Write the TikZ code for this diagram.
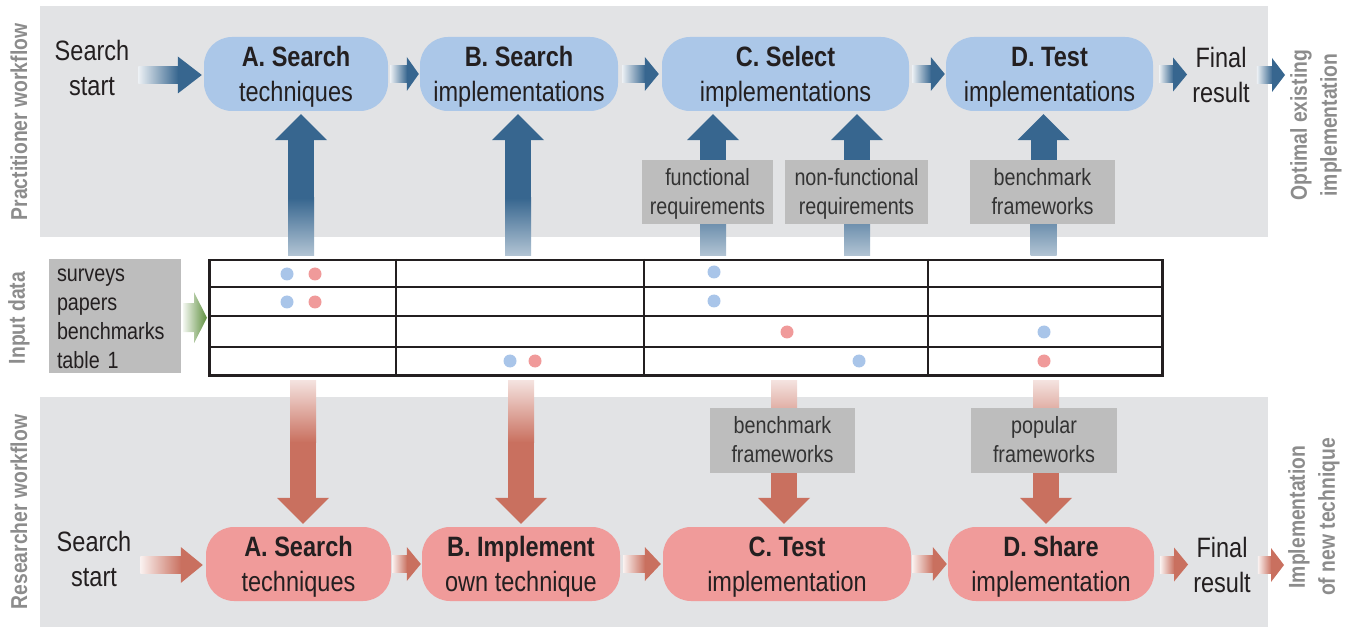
\documentclass[tikz,border=0pt]{standalone}
\usepackage{fontspec}
\setmainfont{Liberation Sans}[FakeStretch=0.84]
\usetikzlibrary{calc}
\definecolor{panelgray}{HTML}{E2E3E5}
\definecolor{bluebox}{HTML}{ABC7E8}
\definecolor{bluearr}{HTML}{37668F}
\definecolor{redbox}{HTML}{F09B9A}
\definecolor{redarr}{HTML}{C9705F}
\definecolor{lblgray}{HTML}{BDBDBD}
\definecolor{rotgray}{HTML}{8C8C8C}
\definecolor{txt}{HTML}{231F20}
\definecolor{lbltxt}{HTML}{333333}
\definecolor{greenarr}{HTML}{5E8F3D}
\definecolor{bdot}{HTML}{A9C5E9}
\definecolor{rdot}{HTML}{F09A9A}
\newcommand\mainfs{\fontsize{28}{35}\selectfont}
\newcommand\lblfs{\fontsize{23.5}{29}\selectfont}
\newcommand\rotfs{\fontsize{23}{30}\selectfont\bfseries}
% horizontal thick arrow: #1 start, #2 tip, #3 head length, #4 head half-height, #5 colour
\newcommand\harr[5]{%
 \shade[left color=#5!10!white, right color=#5] let \p1=#1, \p2=#2 in (\x1,\y2-8.5pt) rectangle (\x2-#3+0.5pt,\y2+8.5pt);
 \fill[#5] let \p1=#1, \p2=#2 in (\x2-#3,\y2-#4) -- (\x2,\y2) -- (\x2-#3,\y2+#4) -- cycle;}
% upward thick arrow: #1 base point (its y), #2 tip, #3 colour
\newcommand\uarr[3]{%
 \shade[top color=#3, bottom color=#3!38!white] let \p1=#1, \p2=#2 in (\x2-13pt,\y1) rectangle (\x2+13pt,\y1+58pt);
 \fill[#3] let \p1=#1, \p2=#2 in (\x2-13pt,\y1+57pt) rectangle (\x2+13pt,\y2-25.5pt);
 \fill[#3] let \p1=#1, \p2=#2 in (\x2-26pt,\y2-26pt) -- (\x2,\y2) -- (\x2+26pt,\y2-26pt) -- cycle;}
% downward thick arrow: #1 base point (its y), #2 tip, #3 colour
\newcommand\darr[3]{%
 \shade[top color=#3!20!white, bottom color=#3] let \p1=#1, \p2=#2 in (\x2-13pt,\y1) rectangle (\x2+13pt,\y1-62pt);
 \fill[#3] let \p1=#1, \p2=#2 in (\x2-13pt,\y1-61pt) rectangle (\x2+13pt,\y2+25.5pt);
 \fill[#3] let \p1=#1, \p2=#2 in (\x2-26pt,\y2+26pt) -- (\x2,\y2) -- (\x2+26pt,\y2+26pt) -- cycle;}
% box with its text set slightly lower: #1 style, #2 name, #3 centre, #4 width, #5 text shift, #6 text
\newcommand\flowbox[6]{%
 \node[#1, minimum width=#4] (#2) at #3 {};
 \node[boxtxt] (#2t) at ($(#2)+(0,#5)$) {#6};}
\begin{document}
\begin{tikzpicture}[x=1pt,y=-1pt,
  bbox/.style={rounded corners=28pt, fill=bluebox, minimum height=74pt, inner sep=0pt},
  rbox/.style={bbox, fill=redbox},
  boxtxt/.style={align=center, font=\mainfs, text=txt, inner sep=0pt},
  plaintext/.style={align=center, font=\mainfs, text=txt, inner sep=3pt},
  lbl/.style={fill=lblgray, inner sep=0pt},
  lbltxt/.style={align=center, font=\lblfs, text=lbltxt, inner sep=0pt},
  rot/.style={rotate=90, font=\rotfs, text=rotgray, align=center, inner sep=0pt},
  gridline/.style={draw=txt, line width=2.5pt}]
\useasboundingbox (0,0) rectangle (1355,628);
% panels
\fill[panelgray] (40,6) rectangle (1268,237);
\fill[panelgray] (40,397) rectangle (1268,627);
% side labels
\node[rot] (lP) at (19,122) {Practitioner workflow};
\node[rot] (lI) at (19,318) {Input data};
\node[rot] (lR) at (19,512) {Researcher workflow};
\node[rot] (lO) at (1316,125) {Optimal existing\\implementation};
\node[rot] (lN) at (1314,517) {Implementation\\of new technique};
% top row nodes
\node[plaintext] (pS) at (92,68) {Search\\start};
\flowbox{bbox}{pA}{(296,74)}{184pt}{3}{\textbf{A. Search}\\techniques}
\flowbox{bbox}{pB}{(519,74)}{198pt}{3}{\textbf{B. Search}\\implementations}
\flowbox{bbox}{pC}{(785.5,74)}{247pt}{3}{\textbf{C. Select}\\implementations}
\flowbox{bbox}{pD}{(1049.5,74)}{207pt}{3}{\textbf{D. Test}\\implementations}
\node[plaintext] (pF) at (1221,74.5) {Final\\result};
\coordinate (pEnd) at (1285,75);
% bottom row nodes
\node[plaintext] (rS) at (94,559) {Search\\start};
\flowbox{rbox}{rA}{(298.5,564)}{185pt}{3}{\textbf{A. Search}\\techniques}
\flowbox{rbox}{rB}{(521,564)}{198pt}{3}{\textbf{B. Implement}\\own technique}
\flowbox{rbox}{rC}{(787,564)}{248pt}{3}{\textbf{C. Test}\\implementation}
\flowbox{rbox}{rD}{(1051,564)}{206pt}{3}{\textbf{D. Share}\\implementation}
\node[plaintext] (rF) at (1222,564.5) {Final\\result};
\coordinate (rEnd) at (1284,565);
% table
\node[draw=txt, line width=2.5pt, minimum width=953pt, minimum height=115pt, inner sep=0pt, anchor=north west] (tbl) at (208,259) {};
\draw[gridline] (208,287) -- (1161,287);
\draw[gridline] (208,316) -- (1161,316);
\draw[gridline] (208,347) -- (1161,347);
\draw[gridline] (396,259) -- (396,374);
\draw[gridline] (644,259) -- (644,374);
\draw[gridline] (928,259) -- (928,374);
% dots
\fill[bdot] (287,274) circle (6.5pt);
\fill[rdot] (315,274) circle (6.5pt);
\fill[bdot] (287,302) circle (6.5pt);
\fill[rdot] (315,302) circle (6.5pt);
\fill[bdot] (510,361) circle (6.5pt);
\fill[rdot] (535,361) circle (6.5pt);
\fill[bdot] (714,272) circle (6.5pt);
\fill[bdot] (714,301) circle (6.5pt);
\fill[rdot] (787,332) circle (6.5pt);
\fill[bdot] (1044,332) circle (6.5pt);
\fill[bdot] (859,361) circle (6.5pt);
\fill[rdot] (1044,361) circle (6.5pt);
% input data
\node[fill=lblgray, minimum width=132pt, minimum height=114pt, inner sep=0pt] (inp) at (115,316) {};
\node[text width=116pt, inner sep=0pt, align=left, font=\lblfs, text=txt] (inpt) at ($(inp)+(0,3)$) {surveys\\papers\\benchmarks\\table 1};
\shade[left color=greenarr!8!white, right color=greenarr] let \p1=(inp.east), \p2=(tbl.west) in
  (\x1+2pt,\y2+14.5pt) -- (\x2-14pt,\y2+14.5pt) -- (\x2-14pt,\y2+25.5pt) -- (\x2-1pt,\y2) -- (\x2-14pt,\y2-25.5pt) -- (\x2-14pt,\y2-14.5pt) -- (\x1+2pt,\y2-14.5pt) -- cycle;
% top vertical arrows
\uarr{($(tbl.north)+(0,-3)$)}{($(pA.south)+(5,3)$)}{bluearr}
\uarr{($(tbl.north)+(0,-3)$)}{($(pB.south)+(-1,3)$)}{bluearr}
\uarr{($(tbl.north)+(0,-3)$)}{($(pC.south)+(-72.5,3)$)}{bluearr}
\uarr{($(tbl.north)+(0,-3)$)}{($(pC.south)+(71.5,3)$)}{bluearr}
\uarr{($(tbl.north)+(0,-3)$)}{($(pD.south)+(-6,3)$)}{bluearr}
% bottom vertical arrows
\darr{($(tbl.south)+(0,4)$)}{($(rA.north)+(4.5,-3)$)}{redarr}
\darr{($(tbl.south)+(0,4)$)}{($(rB.north)+(0,-3)$)}{redarr}
\darr{($(tbl.south)+(0,4)$)}{($(rC.north)+(-3,-3)$)}{redarr}
\darr{($(tbl.south)+(0,4)$)}{($(rD.north)+(-5,-3)$)}{redarr}
% labels on arrows
\node[lbl, minimum width=131pt, minimum height=64pt] (lf) at (707.5,192) {};
\node[lbltxt] (lft) at ($(lf)+(0,2)$) {functional\\requirements};
\node[lbl, minimum width=143pt, minimum height=64pt] (lnf) at (856.5,192) {};
\node[lbltxt] (lnft) at ($(lnf)+(0,2)$) {non-functional\\requirements};
\node[lbl, minimum width=145pt, minimum height=64pt] (lbt) at (1042.5,192) {};
\node[lbltxt] (lbtt) at ($(lbt)+(0,0)$) {benchmark\\frameworks};
\node[lbl, minimum width=145pt, minimum height=65pt] (lbb) at (782.5,440) {};
\node[lbltxt] (lbbt) at ($(lbb)+(0,0)$) {benchmark\\frameworks};
\node[lbl, minimum width=146pt, minimum height=65pt] (lpf) at (1044,440) {};
\node[lbltxt] (lpft) at ($(lpf)+(0,0)$) {popular\\frameworks};
% top horizontal arrows
\harr{($(pS.east)+(6,0)$)}{($(pA.west)+(-2,1)$)}{24pt}{18.5pt}{bluearr}
\harr{($(pA.east)+(2,0)$)}{($(pB.west)+(-1,0)$)}{12pt}{17pt}{bluearr}
\harr{($(pB.east)+(4,0)$)}{($(pC.west)+(-3,0)$)}{14pt}{17pt}{bluearr}
\harr{($(pC.east)+(3,0)$)}{($(pD.west)+(-1,0)$)}{14pt}{17pt}{bluearr}
\harr{($(pD.east)+(6,0)$)}{($(pF.west)+(-2,0)$)}{14pt}{17pt}{bluearr}
\harr{($(pF.east)+(4,0)$)}{(pEnd)}{13pt}{17pt}{bluearr}
% bottom horizontal arrows
\harr{($(rS.east)+(6,0)$)}{($(rA.west)+(-3,1)$)}{22pt}{18pt}{redarr}
\harr{($(rA.east)+(1,0)$)}{($(rB.west)+(-1,0)$)}{14pt}{17pt}{redarr}
\harr{($(rB.east)+(3,0)$)}{($(rC.west)+(-2,0)$)}{16pt}{17pt}{redarr}
\harr{($(rC.east)+(1,0)$)}{($(rD.west)+(-1,0)$)}{14pt}{17pt}{redarr}
\harr{($(rD.east)+(6,0)$)}{($(rF.west)+(-2,0)$)}{14pt}{17pt}{redarr}
\harr{($(rF.east)+(4,0)$)}{(rEnd)}{13pt}{17pt}{redarr}
\end{tikzpicture}
\end{document}
